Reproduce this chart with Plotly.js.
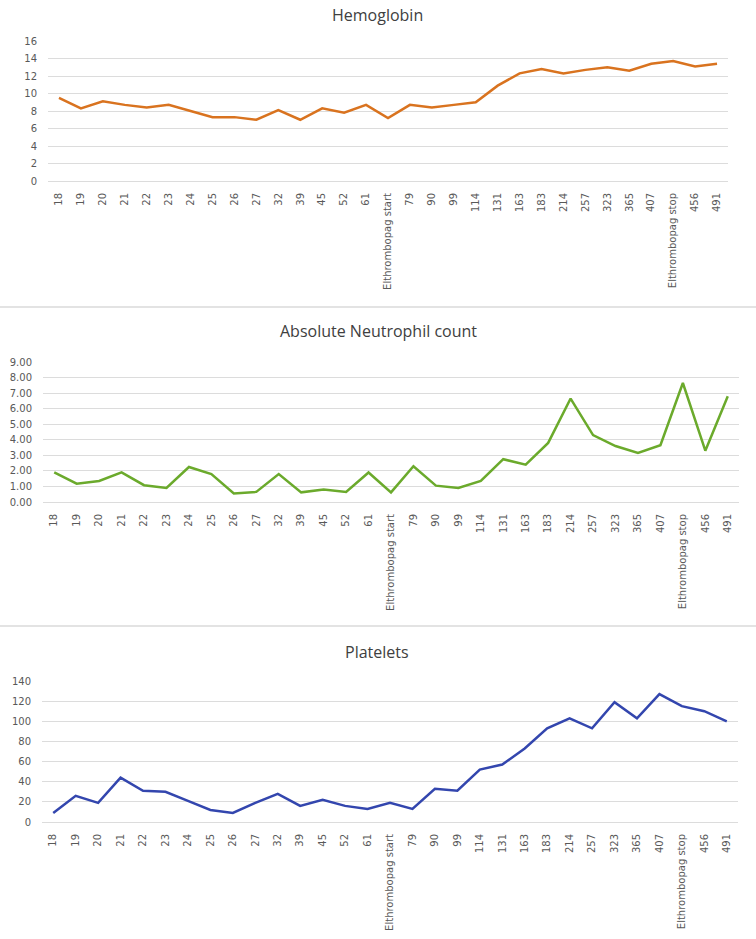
<!DOCTYPE html>
<html>
<head>
<meta charset="utf-8">
<script src="https://cdn.plot.ly/plotly-3.0.1.min.js"></script>
<style>
  html, body { margin: 0; padding: 0; background: #fff; }
  #chart { width: 756px; height: 939px; }
</style>
</head>
<body>
<div id="chart"></div>
<script>
// --- data ---
const days = ['18', '19', '20', '21', '22', '23', '24', '25', '26', '27', '32', '39', '45', '52', '61',
  'Elthrombopag start', '79', '90', '99', '114', '131', '163', '183', '214', '257', '323', '365', '407',
  'Elthrombopag stop', '456', '491'];

const hemoglobin = [9.5, 8.3, 9.1, 8.7, 8.4, 8.7, 8.0, 7.3, 7.3, 7.0, 8.1, 7.0, 8.3, 7.8, 8.7,
  7.2, 8.7, 8.4, 8.7, 9.0, 10.9, 12.3, 12.8, 12.3, 12.7, 13.0, 12.6, 13.4, 13.7, 13.1, 13.4];

const neutrophils = [1.90, 1.18, 1.35, 1.90, 1.08, 0.90, 2.25, 1.80, 0.55, 0.65, 1.80, 0.62, 0.80, 0.65, 1.90,
  0.62, 2.30, 1.05, 0.90, 1.35, 2.75, 2.40, 3.80, 6.65, 4.30, 3.60, 3.15, 3.65, 7.65, 3.30, 6.80];

const platelets = [9, 26, 19, 44, 31, 30, 21, 12, 9, 19, 28, 16, 22, 16, 13,
  19, 13, 33, 31, 52, 57, 73, 93, 103, 93, 119, 103, 127, 115, 110, 100];

const titles = ['Hemoglobin', 'Absolute Neutrophil count', 'Platelets'];
const colors = ['#D9731F', '#6BAA2C', '#3346AE'];

// --- layout helpers (pixel -> paper) ---
const W = 756, H = 939;
const px = (x) => x / W;
const py = (y) => 1 - y / H;

// plot areas in pixels: [left, right, top, bottom]
const boxes = [
  [48, 728, 41, 181],
  [43, 739, 362, 502],
  [42, 738, 681, 822]
];
const yRanges = [[0, 16], [0, 9], [0, 140]];
const yDtick = [2, 1, 20];
const yFormat = ['', '.2f', ''];
const titleY = [15, 331, 652];
const titleX = [377, 378, 377];

const tickFont = { family: 'DejaVu Sans, Verdana, sans-serif', size: 10, color: '#595959' };

const series = [hemoglobin, neutrophils, platelets];
const traces = series.map((vals, i) => ({
  x: days,
  y: vals,
  type: 'scatter',
  mode: 'lines',
  line: { color: colors[i], width: 2.5 },
  xaxis: i === 0 ? 'x' : 'x' + (i + 1),
  yaxis: i === 0 ? 'y' : 'y' + (i + 1),
  hoverinfo: 'x+y'
}));

const layout = {
  width: W,
  height: H,
  margin: { l: 0, r: 0, t: 0, b: 0 },
  paper_bgcolor: '#fff',
  plot_bgcolor: '#fff',
  showlegend: false,
  annotations: [],
  shapes: [
    { type: 'line', xref: 'paper', yref: 'paper', x0: 0, x1: 1, y0: py(307), y1: py(307),
      line: { color: '#DADADA', width: 1.5 } },
    { type: 'line', xref: 'paper', yref: 'paper', x0: 0, x1: 1, y0: py(626), y1: py(626),
      line: { color: '#DADADA', width: 1.5 } }
  ]
};

boxes.forEach((b, i) => {
  const sx = i === 0 ? '' : String(i + 1);
  layout['xaxis' + sx] = {
    domain: [px(b[0]), px(b[1])],
    anchor: 'y' + sx,
    type: 'category',
    range: [-0.5, days.length - 0.5],
    tickangle: -90,
    tickfont: tickFont,
    ticklabelstandoff: 9,
    showgrid: false,
    showline: false,
    zeroline: false,
    ticks: '',
    fixedrange: true
  };
  layout['yaxis' + sx] = {
    domain: [py(b[3]), py(b[2])],
    anchor: 'x' + sx,
    range: yRanges[i],
    dtick: yDtick[i],
    tickformat: yFormat[i],
    tickfont: tickFont,
    ticklabelstandoff: 10,
    showgrid: true,
    gridcolor: '#DCDCDC',
    gridwidth: 1,
    zeroline: true,
    zerolinecolor: '#DCDCDC',
    zerolinewidth: 1,
    showline: false,
    ticks: '',
    fixedrange: true
  };
  layout.annotations.push({
    text: titles[i],
    xref: 'paper', yref: 'paper',
    x: px(titleX[i]), y: py(titleY[i]),
    xanchor: 'center', yanchor: 'middle',
    showarrow: false,
    font: { family: 'Open Sans, Lato, sans-serif', size: 16, color: '#404040' }
  });
});

Plotly.newPlot('chart', traces, layout, { displayModeBar: false, staticPlot: true });
</script>
</body>
</html>
